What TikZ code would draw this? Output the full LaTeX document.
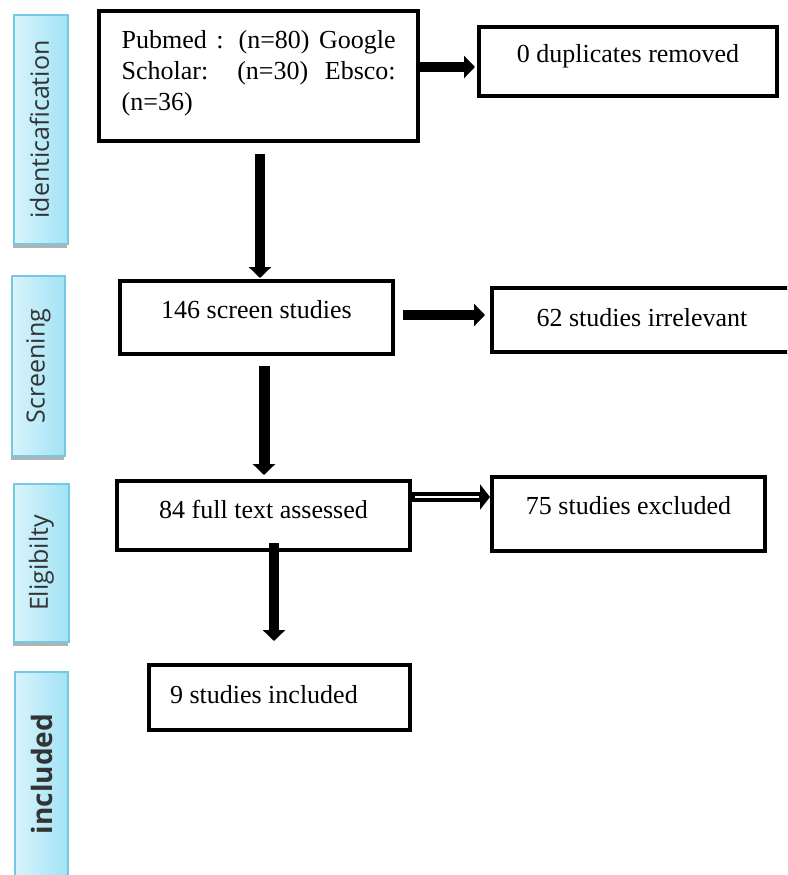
\documentclass[tikz,border=0pt]{standalone}
\usepackage{fontspec}
\usepackage{graphicx}
\setmainfont{Liberation Serif}
\newfontfamily\lblfont{Open Sans}
\usetikzlibrary{arrows.meta,calc,shadows}
\definecolor{phaseleft}{HTML}{D8F4FC}
\definecolor{phaseright}{HTML}{A2E2F5}
\definecolor{phaseborder}{HTML}{74CAE2}
\definecolor{labeltext}{HTML}{333333}
\pgfdeclarehorizontalshading{phaseshade}{100bp}{color(0bp)=(phaseleft); color(25bp)=(phaseleft); color(75bp)=(phaseright); color(100bp)=(phaseright)}
\begin{document}
\begin{tikzpicture}[x=1pt,y=-1pt,
  box/.style={draw=black,line width=4pt,inner sep=0pt,outer sep=0pt,anchor=north west,
    font=\fontsize{26}{31}\selectfont},
  phase/.style={draw=phaseborder,line width=1.5pt,shading=phaseshade,
    inner sep=0pt,outer sep=0pt,anchor=north west,
    drop shadow={shadow xshift=-1.5pt,shadow yshift=-3.5pt,fill=black,opacity=0.3},
    font=\lblfont\fontsize{25}{30}\selectfont,text=labeltext},
  arr/.style={line width=10pt,-{Triangle[width=22pt,length=11pt]}},
  dblarr/.style={line width=10pt,-{Triangle[width=25pt,length=10pt]}}
]
\clip (0,0) rectangle (787,875);
\fill[white] (0,0) rectangle (787,875);

% phase labels
\node[phase,minimum width=54,minimum height=229] (L1) at (14,15) {\rotatebox{90}{identicafication}\hspace*{3pt}};
\node[phase,minimum width=53,minimum height=180] (L2) at (12,276) {\rotatebox{90}{Screening}};
\node[phase,minimum width=55,minimum height=158] (L3) at (14,484) {\rotatebox{90}{Eligibilty}};
\node[phase,minimum width=53,minimum height=204,font=\lblfont\bfseries\fontsize{28}{32}\selectfont] (L4) at (15,672) {\rotatebox{90}{included}};

% boxes
\node[box,minimum width=319,minimum height=130] (P) at (99,11) {};
\node[anchor=north west,inner sep=0pt,align=left,font=\fontsize{26}{31}\selectfont] (Pt) at (121.5,30)
  {\makebox[274pt][s]{Pubmed : (n=80) Google}\\\makebox[274pt][s]{Scholar: (n=30) Ebsco:}\\\makebox[274pt][l]{(n=36)}};
\node[box,minimum width=298,minimum height=69,text height=36pt,text depth=33pt] (D) at (479,27) {0 duplicates removed};
\node[box,minimum width=273,minimum height=73,text height=37pt,text depth=36pt] (S) at (120,281) {146 screen studies};
\node[box,minimum width=300,minimum height=64,text height=38pt,text depth=26pt] (I) at (492,288) {62 studies irrelevant};
\node[box,minimum width=293,minimum height=69,text height=37pt,text depth=32pt] (F) at (117,481) {84 full text assessed};
\node[box,minimum width=273,minimum height=74,text height=37pt,text depth=37pt] (E) at (492,477) {75 studies excluded};
\node[box,minimum width=261,minimum height=65,text height=38pt,text depth=27pt] (N) at (149,665) {\makebox[219pt][l]{9 studies included}};

% arrows
\draw[arr] ($(P.east)+(2,-9)$) -- ($(D.west)+(-4,5.5)$);
\draw[arr] ($(P.south)+(1.5,13)$) -- ($(P.south |- S.north)+(1.5,-3)$);
\draw[arr] ($(S.east)+(10,-2.5)$) -- ($(I.west)+(-7,-5)$);
\draw[arr,line width=11pt] ($(S.south)+(7.5,12)$) -- ($(S.south |- F.north)+(7.5,-6)$);
\draw[dblarr] ($(F.east)+(2,-18.5)$) -- ($(E.west)+(-2,-17)$);
\draw[white,line width=2.2pt] ($(F.east)+(5,-18.5)$) -- ($(E.west)+(-13,-17)$);
\draw[arr] ($(F.south)+(10.5,-7)$) -- ($(F.south |- N.north)+(10.5,-24)$);
\end{tikzpicture}
\end{document}
